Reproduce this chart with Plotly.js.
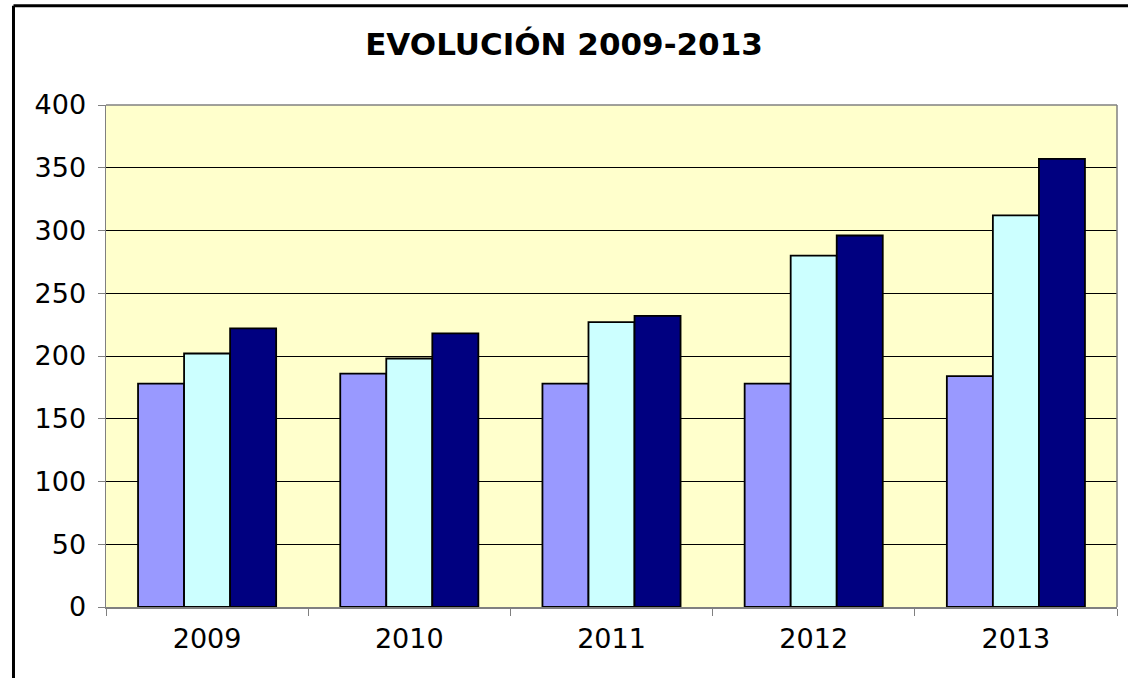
<!DOCTYPE html>
<html>
<head>
<meta charset="utf-8">
<script src="https://cdn.plot.ly/plotly-3.0.1.min.js"></script>
<style>
  html, body { margin: 0; padding: 0; background: #ffffff; }
  #chart { width: 1128px; height: 678px; }
</style>
</head>
<body>
<div id="chart"></div>
<script>
const years = ["2009", "2010", "2011", "2012", "2013"];
const serie1 = [178, 186, 178, 178, 184];
const serie2 = [202, 198, 227, 280, 312];
const serie3 = [222, 218, 232, 296, 357];
const seriesNames = ["Serie 1", "Serie 2", "Serie 3"];
const yTicks = [0, 50, 100, 150, 200, 250, 300, 350, 400];

const colors = ["#9999FF", "#CCFFFF", "#000080"];
const allSeries = [serie1, serie2, serie3];

const traces = allSeries.map((vals, i) => ({
  type: "bar",
  name: seriesNames[i],
  x: years,
  y: vals,
  marker: { color: colors[i], line: { color: "#000000", width: 1.8 } },
  hoverinfo: "x+y"
}));

const font = "DejaVu Sans, Verdana, sans-serif";

const layout = {
  width: 1128,
  height: 678,
  margin: { l: 106, r: 11, t: 105, b: 71 },
  paper_bgcolor: "#ffffff",
  plot_bgcolor: "#FFFFCC",
  showlegend: false,
  barmode: "group",
  bargap: 0.317,
  bargroupgap: 0,
  title: {
    text: "<b>EVOLUCIÓN 2009-2013</b>",
    font: { family: font, size: 31, color: "#000000" },
    x: 0.5, xanchor: "center",
    y: 0.935, yanchor: "middle", yref: "container"
  },
  xaxis: {
    type: "category",
    showline: true, linecolor: "#808080", linewidth: 1.5,
    ticks: "outside", tickson: "boundaries", ticklen: 7, tickcolor: "#808080",
    ticklabelstandoff: 7,
    tickfont: { family: font, size: 27, color: "#000000" },
    showgrid: false, zeroline: false
  },
  yaxis: {
    range: [0, 400],
    tickvals: yTicks,
    showline: true, linecolor: "#808080", linewidth: 1.5,
    ticks: "outside", ticklen: 7, tickcolor: "#808080",
    ticklabelstandoff: 6,
    tickfont: { family: font, size: 27, color: "#000000" },
    showgrid: true, gridcolor: "#000000", gridwidth: 1,
    zeroline: false
  },
  shapes: [
    { type: "line", xref: "paper", yref: "paper", x0: 1, x1: 1, y0: 0, y1: 1,
      line: { color: "#808080", width: 1.5 } },
    { type: "line", xref: "paper", yref: "paper", x0: 0, x1: 1, y0: 1, y1: 1,
      line: { color: "#808080", width: 1.5 } },
    { type: "line", xref: "paper", yref: "paper", x0: -0.0915, x1: -0.0915, y0: -0.2, y1: 1.1975,
      line: { color: "#000000", width: 3 } },
    { type: "line", xref: "paper", yref: "paper", x0: -0.0915, x1: 1.02, y0: 1.1975, y1: 1.1975,
      line: { color: "#000000", width: 3 } }
  ]
};

Plotly.newPlot("chart", traces, layout, { displayModeBar: false, staticPlot: true });
</script>
</body>
</html>
